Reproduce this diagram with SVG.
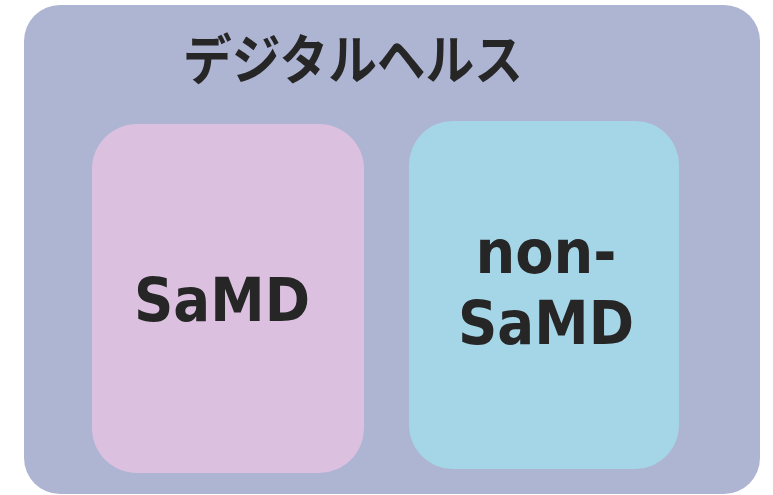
<svg xmlns="http://www.w3.org/2000/svg" width="773" height="495" viewBox="0 0 773 495">
<style>
.lbl{font-family:"DejaVu Sans","Noto Sans",sans-serif;font-weight:bold;fill:#262626;text-anchor:middle}
.ttl{font-family:"Noto Sans CJK JP","Noto Sans",sans-serif;font-weight:bold;fill:#262626;text-anchor:middle}
</style>
<rect width="773" height="495" fill="#ffffff"/>
<g id="digital-health">
<rect x="24" y="5" width="736" height="489" rx="36" ry="36" fill="#AEB5D3"/>
<text class="ttl" x="353" y="80" font-size="54" textLength="340" lengthAdjust="spacingAndGlyphs">デジタルヘルス</text>
</g>
<g id="samd">
<rect x="92" y="124" width="272" height="349" rx="45" ry="45" fill="#DBC1DF"/>
<text class="lbl" x="222" y="321" font-size="60" textLength="176" lengthAdjust="spacingAndGlyphs">SaMD</text>
</g>
<g id="non-samd">
<rect x="409" y="121" width="270" height="348" rx="44" ry="44" fill="#A5D6E7"/>
<text class="lbl" x="546" y="273" font-size="60" textLength="141" lengthAdjust="spacingAndGlyphs">non-</text>
<text class="lbl" x="546" y="344" font-size="60" textLength="176" lengthAdjust="spacingAndGlyphs">SaMD</text>
</g>
<g id="connectors"/>
</svg>
